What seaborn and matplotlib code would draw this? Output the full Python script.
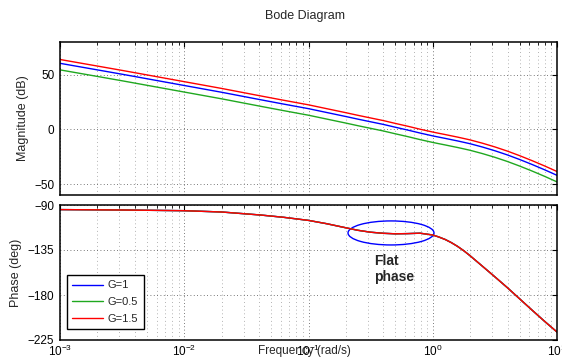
import matplotlib
matplotlib.use("Agg")
import matplotlib.pyplot as plt
from matplotlib.patches import Ellipse
from matplotlib.ticker import LogLocator, NullFormatter, FixedLocator
import pandas as pd
import seaborn as sns

# Frequency grid (rad/s) shared by every response curve
freq_rad_s = [0.001, 0.0032, 0.01, 0.02, 0.041, 0.063, 0.1, 0.14, 0.2, 0.25,
              0.316, 0.4, 0.5, 0.63, 0.79, 1.0, 1.12, 1.26, 1.41, 1.58,
              1.78, 2.0, 2.51, 3.16, 3.98, 5.0, 6.31, 7.94, 10.0]

# Magnitude responses (dB) for the three loop gains
mag_g1_db = [60.5, 50.4, 40.2, 34.0, 27.2, 23.2, 19.0, 15.5, 11.8, 9.4,
             7.0, 4.6, 2.0, -0.6, -3.3, -5.9, -7.05, -8.2, -9.35, -10.5,
             -11.8, -13.1, -16.1, -19.5, -23.3, -27.5, -32.1, -36.9, -42.0]
mag_g05_db = [54.5, 44.4, 34.2, 28.0, 21.2, 17.2, 13.0, 9.5, 5.8, 3.4,
              1.0, -1.4, -4.0, -6.6, -9.3, -11.9, -13.05, -14.2, -15.35, -16.5,
              -17.8, -19.1, -22.1, -25.5, -29.3, -33.5, -38.1, -42.9, -48.0]
mag_g15_db = [64.0, 53.9, 43.7, 37.5, 30.7, 26.7, 22.5, 19.0, 15.3, 12.9,
              10.5, 8.1, 5.5, 2.9, 0.2, -2.4, -3.55, -4.7, -5.85, -7.0,
              -8.3, -9.6, -12.6, -16.0, -19.8, -24.0, -28.6, -33.4, -38.5]

# Phase (deg) - a pure gain leaves it unchanged, so all three curves share it
phase_deg = [-94.6, -95.0, -95.7, -97.0, -100.0, -102.3, -105.4, -108.7, -112.8, -115.3,
             -117.2, -118.3, -118.8, -118.6, -118.2, -120.0, -122.0, -124.5, -127.6, -131.3,
             -135.8, -140.8, -151.2, -161.8, -172.6, -183.8, -195.2, -206.3, -217.0]

gain_labels = ["G=1", "G=0.5", "G=1.5"]
line_colors = ["#0000ff", "#1fa81f", "#ff0000"]

mag_ticks = [-50, 0, 50]
phase_ticks = [-225, -180, -135, -90]

sns.set_theme(style="white")
plt.rcParams["font.family"] = ["Liberation Sans", "DejaVu Sans"]
plt.rcParams["axes.edgecolor"] = "black"
plt.rcParams["axes.linewidth"] = 1.1
plt.rcParams["xtick.color"] = "black"
plt.rcParams["ytick.color"] = "black"

rows = []
for label, mags in zip(gain_labels, [mag_g1_db, mag_g05_db, mag_g15_db]):
    for f, m, p in zip(freq_rad_s, mags, phase_deg):
        rows.append({"freq": f, "mag": m, "phase": p, "gain": label})
df = pd.DataFrame(rows)
palette = dict(zip(gain_labels, line_colors))

W, H = 562, 360
fig = plt.figure(figsize=(W / 100, H / 100), dpi=100)
fig.patch.set_facecolor("white")
ax_mag = fig.add_axes([60 / W, 1 - 195 / H, 497 / W, 153 / H])
ax_ph = fig.add_axes([60 / W, 1 - 340 / H, 497 / W, 135 / H])

for ax in (ax_mag, ax_ph):
    ax.set_xscale("log")

sns.lineplot(data=df, x="freq", y="mag", hue="gain", hue_order=gain_labels,
             palette=palette, estimator=None, sort=False, lw=1.0,
             legend=False, ax=ax_mag)
sns.lineplot(data=df, x="freq", y="phase", hue="gain", hue_order=gain_labels,
             palette=palette, estimator=None, sort=False, lw=1.0,
             legend=True, ax=ax_ph)

grid_major = dict(linestyle=(0, (1, 3)), color="0.3", linewidth=0.6)
grid_minor = dict(linestyle=(0, (1, 3.5)), color="0.6", linewidth=0.6)

for ax in (ax_mag, ax_ph):
    ax.set_xlim(1e-3, 10)
    ax.xaxis.set_major_locator(LogLocator(base=10, numticks=10))
    ax.xaxis.set_minor_locator(LogLocator(base=10, subs=[2, 3, 4, 5, 6, 7, 8, 9], numticks=20))
    ax.xaxis.set_minor_formatter(NullFormatter())
    ax.grid(True, which="major", **grid_major)
    ax.grid(True, which="minor", axis="x", **grid_minor)
    ax.tick_params(which="both", direction="in", top=True, right=True,
                   labelsize=8.5, pad=4)
    ax.tick_params(which="major", length=3.5, width=0.8)
    ax.tick_params(which="minor", length=2, width=0.6)
    ax.set_axisbelow(True)
    for sp in ax.spines.values():
        sp.set_color("black")
        sp.set_linewidth(1.1)

ax_mag.set_ylim(-60, 80)
ax_mag.yaxis.set_major_locator(FixedLocator(mag_ticks))
ax_mag.tick_params(labelbottom=False)
ax_mag.set_xlabel("")
ax_mag.set_ylabel("Magnitude (dB)", fontsize=9)
ax_mag.yaxis.set_label_coords(-0.063, 0.5)

ax_ph.set_ylim(-225, -90)
ax_ph.yaxis.set_major_locator(FixedLocator(phase_ticks))
ax_ph.tick_params(axis="x", pad=3)
ax_ph.set_ylabel("Phase (deg)", fontsize=9)
ax_ph.yaxis.set_label_coords(-0.077, 0.5)
ax_ph.set_xlabel("Frequency (rad/s)", fontsize=8.5)
ax_ph.xaxis.set_label_coords(0.492, -0.035)

handles, labels = ax_ph.get_legend_handles_labels()
leg = ax_ph.legend(handles, labels, loc="lower left", bbox_to_anchor=(0.0135, 0.079),
                   borderaxespad=0, fontsize=8, frameon=True, fancybox=False,
                   framealpha=1, edgecolor="black", handlelength=2.8,
                   handletextpad=0.4, labelspacing=0.6, borderpad=0.5)
leg.get_frame().set_linewidth(1.0)

# Highlight of the flat-phase region
ax_ph.add_patch(Ellipse((0.666, 0.793), 0.173, 0.178, transform=ax_ph.transAxes,
                        fill=False, edgecolor="#0000ff", linewidth=1.0))
ax_ph.text(0.632, 0.637, "Flat\nphase", transform=ax_ph.transAxes,
           fontsize=10, fontweight="bold", ha="left", va="top", linespacing=1.15)

fig.text(305 / W, 1 - 16 / H, "Bode Diagram", ha="center", va="center", fontsize=9)

fig.savefig("out.png", dpi=100)
